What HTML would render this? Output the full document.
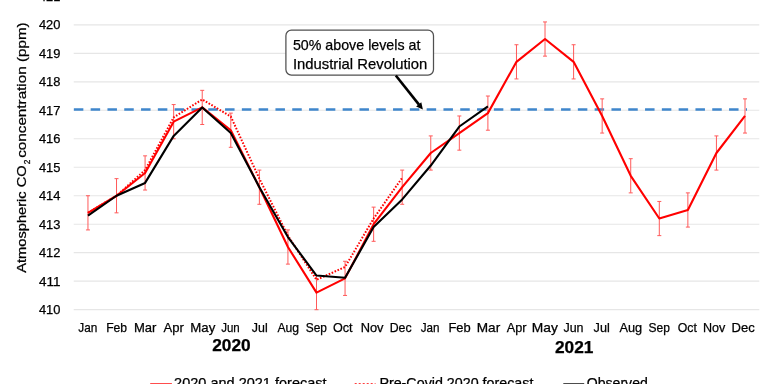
<!DOCTYPE html>
<html><head><meta charset="utf-8"><style>
html,body{margin:0;padding:0;background:#fff;width:768px;height:384px;overflow:hidden;position:relative}
svg text{font-family:"Liberation Sans", sans-serif;stroke:#000;stroke-width:0.25px}
svg{will-change:transform}
</style></head><body>
<svg width="768" height="384" viewBox="0 0 768 384" style="position:absolute;left:0;top:0">
<line x1="73.7" x2="759.3" y1="309.70" y2="309.70" stroke="#e6e6e6" stroke-width="1.2"/>
<line x1="73.7" x2="759.3" y1="281.21" y2="281.21" stroke="#e6e6e6" stroke-width="1.2"/>
<line x1="73.7" x2="759.3" y1="252.72" y2="252.72" stroke="#e6e6e6" stroke-width="1.2"/>
<line x1="73.7" x2="759.3" y1="224.23" y2="224.23" stroke="#e6e6e6" stroke-width="1.2"/>
<line x1="73.7" x2="759.3" y1="195.74" y2="195.74" stroke="#e6e6e6" stroke-width="1.2"/>
<line x1="73.7" x2="759.3" y1="167.25" y2="167.25" stroke="#e6e6e6" stroke-width="1.2"/>
<line x1="73.7" x2="759.3" y1="138.76" y2="138.76" stroke="#e6e6e6" stroke-width="1.2"/>
<line x1="73.7" x2="759.3" y1="110.27" y2="110.27" stroke="#e6e6e6" stroke-width="1.2"/>
<line x1="73.7" x2="759.3" y1="81.78" y2="81.78" stroke="#e6e6e6" stroke-width="1.2"/>
<line x1="73.7" x2="759.3" y1="53.29" y2="53.29" stroke="#e6e6e6" stroke-width="1.2"/>
<line x1="73.7" x2="759.3" y1="24.80" y2="24.80" stroke="#e6e6e6" stroke-width="1.2"/>
<line x1="73.7" x2="759.3" y1="-3.69" y2="-3.69" stroke="#e6e6e6" stroke-width="1.2"/>
<text x="60.4" y="314.30" text-anchor="end" font-size="12.6" fill="#000" textLength="21.5" lengthAdjust="spacingAndGlyphs">410</text>
<text x="60.4" y="285.81" text-anchor="end" font-size="12.6" fill="#000" textLength="21.5" lengthAdjust="spacingAndGlyphs">411</text>
<text x="60.4" y="257.32" text-anchor="end" font-size="12.6" fill="#000" textLength="21.5" lengthAdjust="spacingAndGlyphs">412</text>
<text x="60.4" y="228.83" text-anchor="end" font-size="12.6" fill="#000" textLength="21.5" lengthAdjust="spacingAndGlyphs">413</text>
<text x="60.4" y="200.34" text-anchor="end" font-size="12.6" fill="#000" textLength="21.5" lengthAdjust="spacingAndGlyphs">414</text>
<text x="60.4" y="171.85" text-anchor="end" font-size="12.6" fill="#000" textLength="21.5" lengthAdjust="spacingAndGlyphs">415</text>
<text x="60.4" y="143.36" text-anchor="end" font-size="12.6" fill="#000" textLength="21.5" lengthAdjust="spacingAndGlyphs">416</text>
<text x="60.4" y="114.87" text-anchor="end" font-size="12.6" fill="#000" textLength="21.5" lengthAdjust="spacingAndGlyphs">417</text>
<text x="60.4" y="86.38" text-anchor="end" font-size="12.6" fill="#000" textLength="21.5" lengthAdjust="spacingAndGlyphs">418</text>
<text x="60.4" y="57.89" text-anchor="end" font-size="12.6" fill="#000" textLength="21.5" lengthAdjust="spacingAndGlyphs">419</text>
<text x="60.4" y="29.40" text-anchor="end" font-size="12.6" fill="#000" textLength="21.5" lengthAdjust="spacingAndGlyphs">420</text>
<text x="60.4" y="0.91" text-anchor="end" font-size="12.6" fill="#000" textLength="21.5" lengthAdjust="spacingAndGlyphs">421</text>
<text transform="translate(25.5,272.8) rotate(-90)" font-size="12.6" fill="#000" textLength="107.5" lengthAdjust="spacingAndGlyphs">Atmospheric CO</text>
<text transform="translate(30.4,164.2) rotate(-90)" font-size="8.4" fill="#000">2</text>
<text transform="translate(25.5,157.8) rotate(-90)" font-size="12.6" fill="#000" textLength="135.5" lengthAdjust="spacingAndGlyphs">concentration (ppm)</text>
<text x="78.31" y="332.3" font-size="12.6" fill="#000" textLength="19.04" lengthAdjust="spacingAndGlyphs">Jan</text>
<text x="106.19" y="332.3" font-size="12.6" fill="#000" textLength="20.92" lengthAdjust="spacingAndGlyphs">Feb</text>
<text x="133.96" y="332.3" font-size="12.6" fill="#000" textLength="22.49" lengthAdjust="spacingAndGlyphs">Mar</text>
<text x="163.61" y="332.3" font-size="12.6" fill="#000" textLength="20.35" lengthAdjust="spacingAndGlyphs">Apr</text>
<text x="190.31" y="332.3" font-size="12.6" fill="#000" textLength="25.01" lengthAdjust="spacingAndGlyphs">May</text>
<text x="221.16" y="332.3" font-size="12.6" fill="#000" textLength="18.54" lengthAdjust="spacingAndGlyphs">Jun</text>
<text x="251.76" y="332.3" font-size="12.6" fill="#000" textLength="15.90" lengthAdjust="spacingAndGlyphs">Jul</text>
<text x="277.44" y="332.3" font-size="12.6" fill="#000" textLength="21.69" lengthAdjust="spacingAndGlyphs">Aug</text>
<text x="305.80" y="332.3" font-size="12.6" fill="#000" textLength="21.17" lengthAdjust="spacingAndGlyphs">Sep</text>
<text x="332.99" y="332.3" font-size="12.6" fill="#000" textLength="19.64" lengthAdjust="spacingAndGlyphs">Oct</text>
<text x="360.69" y="332.3" font-size="12.6" fill="#000" textLength="22.86" lengthAdjust="spacingAndGlyphs">Nov</text>
<text x="389.73" y="332.3" font-size="12.6" fill="#000" textLength="21.94" lengthAdjust="spacingAndGlyphs">Dec</text>
<text x="420.63" y="332.3" font-size="12.6" fill="#000" textLength="18.78" lengthAdjust="spacingAndGlyphs">Jan</text>
<text x="448.45" y="332.3" font-size="12.6" fill="#000" textLength="22.25" lengthAdjust="spacingAndGlyphs">Feb</text>
<text x="476.74" y="332.3" font-size="12.6" fill="#000" textLength="23.49" lengthAdjust="spacingAndGlyphs">Mar</text>
<text x="506.78" y="332.3" font-size="12.6" fill="#000" textLength="19.78" lengthAdjust="spacingAndGlyphs">Apr</text>
<text x="531.83" y="332.3" font-size="12.6" fill="#000" textLength="26.05" lengthAdjust="spacingAndGlyphs">May</text>
<text x="563.45" y="332.3" font-size="12.6" fill="#000" textLength="20.07" lengthAdjust="spacingAndGlyphs">Jun</text>
<text x="593.57" y="332.3" font-size="12.6" fill="#000" textLength="16.17" lengthAdjust="spacingAndGlyphs">Jul</text>
<text x="619.50" y="332.3" font-size="12.6" fill="#000" textLength="22.72" lengthAdjust="spacingAndGlyphs">Aug</text>
<text x="648.59" y="332.3" font-size="12.6" fill="#000" textLength="21.41" lengthAdjust="spacingAndGlyphs">Sep</text>
<text x="677.81" y="332.3" font-size="12.6" fill="#000" textLength="19.14" lengthAdjust="spacingAndGlyphs">Oct</text>
<text x="703.00" y="332.3" font-size="12.6" fill="#000" textLength="22.36" lengthAdjust="spacingAndGlyphs">Nov</text>
<text x="731.51" y="332.3" font-size="12.6" fill="#000" textLength="23.21" lengthAdjust="spacingAndGlyphs">Dec</text>
<text x="231.5" y="350.8" text-anchor="middle" font-size="16.3" font-weight="bold" fill="#000" textLength="38.5" lengthAdjust="spacingAndGlyphs">2020</text>
<text x="574.2" y="352.8" text-anchor="middle" font-size="16.3" font-weight="bold" fill="#000" textLength="38.5" lengthAdjust="spacingAndGlyphs">2021</text>
<line x1="73.85" x2="747" y1="109.5" y2="109.5" stroke="#3f86cc" stroke-width="2.3" stroke-dasharray="9.5 7.3"/>
<path d="M87.96 195.74V229.93M85.96 195.74H89.96M85.96 229.93H89.96" stroke="#ff5a5a" stroke-width="1" fill="none"/>
<path d="M116.53 178.65V212.83M114.53 178.65H118.53M114.53 212.83H118.53" stroke="#ff5a5a" stroke-width="1" fill="none"/>
<path d="M145.09 155.85V190.04M143.09 155.85H147.09M143.09 190.04H147.09" stroke="#ff5a5a" stroke-width="1" fill="none"/>
<path d="M173.66 104.57V138.76M171.66 104.57H175.66M171.66 138.76H175.66" stroke="#ff5a5a" stroke-width="1" fill="none"/>
<path d="M202.23 90.33V124.51M200.23 90.33H204.23M200.23 124.51H204.23" stroke="#ff5a5a" stroke-width="1" fill="none"/>
<path d="M230.80 113.12V147.31M228.80 113.12H232.80M228.80 147.31H232.80" stroke="#ff5a5a" stroke-width="1" fill="none"/>
<path d="M259.36 170.10V204.29M257.36 170.10H261.36M257.36 204.29H261.36" stroke="#ff5a5a" stroke-width="1" fill="none"/>
<path d="M287.93 229.93V264.12M285.93 229.93H289.93M285.93 264.12H289.93" stroke="#ff5a5a" stroke-width="1" fill="none"/>
<path d="M316.50 275.51V309.70M314.50 275.51H318.50M314.50 309.70H318.50" stroke="#ff5a5a" stroke-width="1" fill="none"/>
<path d="M345.06 261.27V295.45M343.06 261.27H347.06M343.06 295.45H347.06" stroke="#ff5a5a" stroke-width="1" fill="none"/>
<path d="M373.63 207.14V241.32M371.63 207.14H375.63M371.63 241.32H375.63" stroke="#ff5a5a" stroke-width="1" fill="none"/>
<path d="M402.20 170.10V204.29M400.20 170.10H404.20M400.20 204.29H404.20" stroke="#ff5a5a" stroke-width="1" fill="none"/>
<path d="M430.76 135.91V170.10M428.76 135.91H432.76M428.76 170.10H432.76" stroke="#ff5a5a" stroke-width="1" fill="none"/>
<path d="M459.33 115.97V150.16M457.33 115.97H461.33M457.33 150.16H461.33" stroke="#ff5a5a" stroke-width="1" fill="none"/>
<path d="M487.90 96.02V130.21M485.90 96.02H489.90M485.90 130.21H489.90" stroke="#ff5a5a" stroke-width="1" fill="none"/>
<path d="M516.47 44.74V78.93M514.47 44.74H518.47M514.47 78.93H518.47" stroke="#ff5a5a" stroke-width="1" fill="none"/>
<path d="M545.03 21.95V56.14M543.03 21.95H547.03M543.03 56.14H547.03" stroke="#ff5a5a" stroke-width="1" fill="none"/>
<path d="M573.60 44.74V78.93M571.60 44.74H575.60M571.60 78.93H575.60" stroke="#ff5a5a" stroke-width="1" fill="none"/>
<path d="M602.17 98.87V133.06M600.17 98.87H604.17M600.17 133.06H604.17" stroke="#ff5a5a" stroke-width="1" fill="none"/>
<path d="M630.73 158.70V192.89M628.73 158.70H632.73M628.73 192.89H632.73" stroke="#ff5a5a" stroke-width="1" fill="none"/>
<path d="M659.30 201.44V235.63M657.30 201.44H661.30M657.30 235.63H661.30" stroke="#ff5a5a" stroke-width="1" fill="none"/>
<path d="M687.87 192.89V227.08M685.87 192.89H689.87M685.87 227.08H689.87" stroke="#ff5a5a" stroke-width="1" fill="none"/>
<path d="M716.43 135.91V170.10M714.43 135.91H718.43M714.43 170.10H718.43" stroke="#ff5a5a" stroke-width="1" fill="none"/>
<path d="M745.00 98.87V133.06M743.00 98.87H747.00M743.00 133.06H747.00" stroke="#ff5a5a" stroke-width="1" fill="none"/>
<polyline points="87.96,212.83 116.53,195.74 145.09,170.10 173.66,117.39 202.23,99.44 230.80,116.54 259.36,178.65 287.93,235.63 316.50,279.79 345.06,266.96 373.63,218.53 402.20,177.79" fill="none" stroke="#ff0000" stroke-width="2" stroke-dasharray="1.6 1.6"/>
<polyline points="87.96,212.83 116.53,195.74 145.09,172.95 173.66,121.67 202.23,107.42 230.80,130.21 259.36,187.19 287.93,247.02 316.50,292.61 345.06,278.36 373.63,224.23 402.20,187.19 430.76,153.00 459.33,133.06 487.90,113.12 516.47,61.84 545.03,39.05 573.60,61.84 602.17,115.97 630.73,175.80 659.30,218.53 687.87,209.99 716.43,153.00 745.00,115.97" fill="none" stroke="#ff0000" stroke-width="2.1" stroke-linejoin="round"/>
<polyline points="87.96,215.68 116.53,195.74 145.09,182.92 173.66,135.91 202.23,107.42 230.80,133.06 259.36,187.19 287.93,237.05 316.50,275.51 345.06,277.79 373.63,227.08 402.20,199.44 430.76,165.54 459.33,126.51 487.90,106.28" fill="none" stroke="#000" stroke-width="2.1" stroke-linejoin="round"/>
<rect x="285.9" y="30.2" width="147.6" height="44.9" rx="5.5" ry="5.5" fill="#fff" stroke="#505050" stroke-width="1.25"/>
<text x="292.9" y="49.6" font-size="15" fill="#000" textLength="127.5" lengthAdjust="spacingAndGlyphs">50% above levels at</text>
<text x="292.9" y="68.5" font-size="15" fill="#000" textLength="134.5" lengthAdjust="spacingAndGlyphs">Industrial Revolution</text>
<line x1="395.8" y1="75.5" x2="419" y2="104.6" stroke="#000" stroke-width="2.6"/>
<path d="M422.9 109.6 L416.1 106.5 L421.3 102.3 Z" fill="#000"/>
<line x1="150.2" x2="171.9" y1="384.4" y2="384.4" stroke="#ff0000" stroke-width="2.2"/>
<text x="174.1" y="387.5" font-size="14" fill="#000" textLength="152.5" lengthAdjust="spacingAndGlyphs">2020 and 2021 forecast</text>
<line x1="354.7" x2="375.5" y1="384.4" y2="384.4" stroke="#ff0000" stroke-width="2.2" stroke-dasharray="2 2"/>
<text x="379.4" y="387.5" font-size="14" fill="#000" textLength="154" lengthAdjust="spacingAndGlyphs">Pre-Covid 2020 forecast</text>
<line x1="563.3" x2="584.2" y1="384.4" y2="384.4" stroke="#000" stroke-width="2.2"/>
<text x="586.8" y="387.5" font-size="14" fill="#000" textLength="61" lengthAdjust="spacingAndGlyphs">Observed</text>
</svg>
</body></html>
